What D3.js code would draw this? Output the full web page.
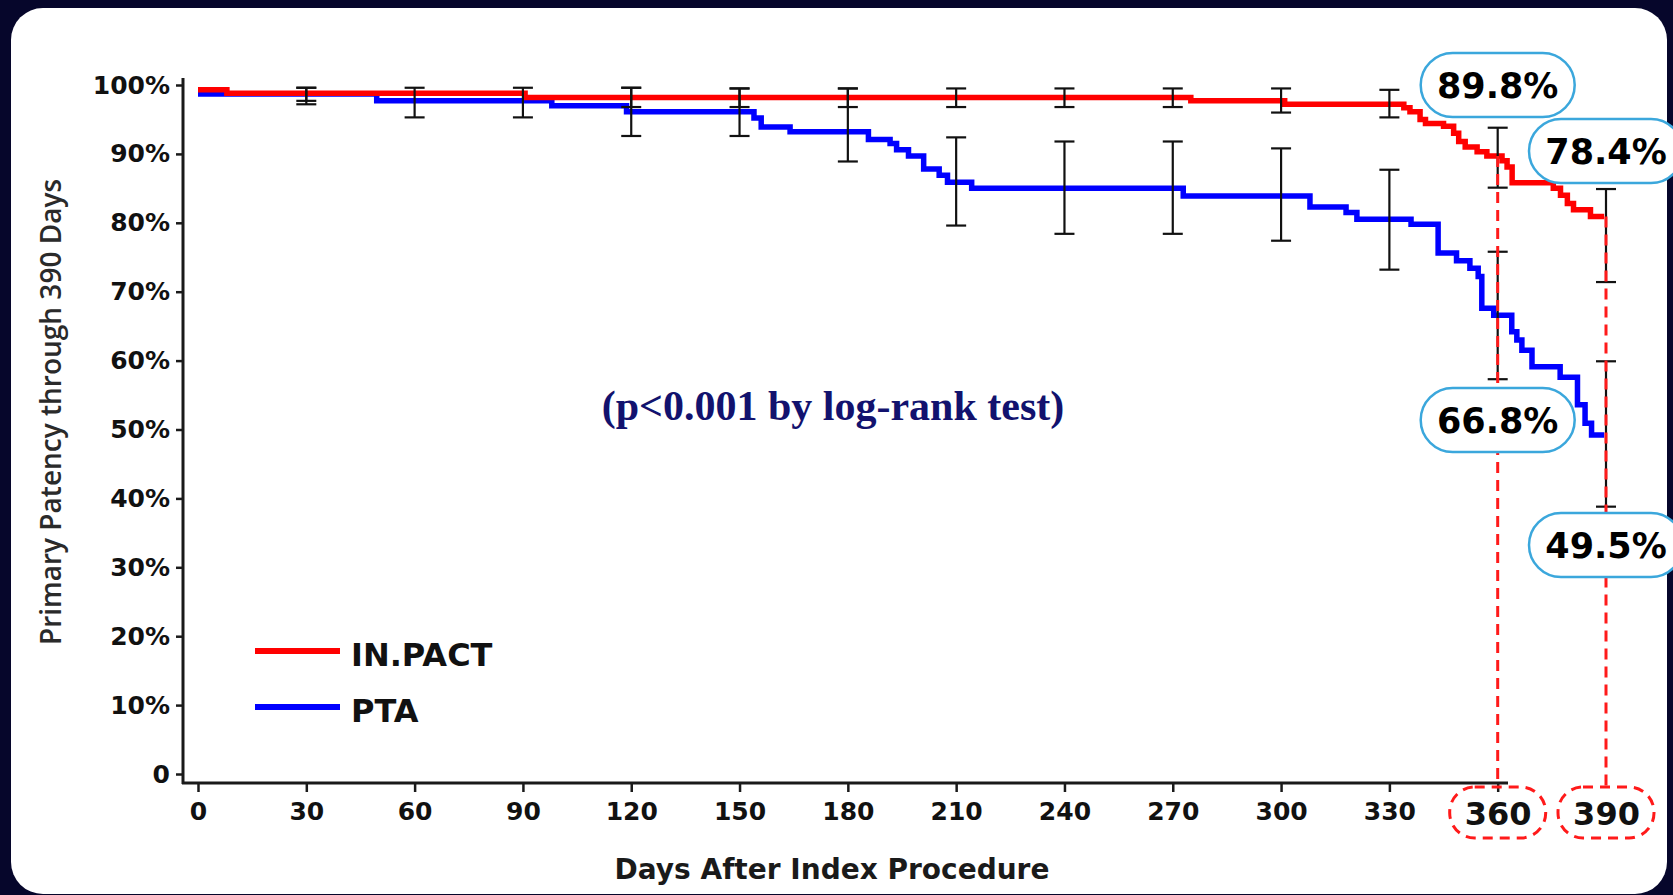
<!DOCTYPE html>
<html>
<head>
<meta charset="utf-8">
<script src="https://cdn.jsdelivr.net/npm/d3@7"></script>
<style>
  html, body { margin: 0; padding: 0; background: #06062b; }
  svg { display: block; }
</style>
</head>
<body>
<div class="chart"></div>
<script>

// ---- data ----
const redDays = [0, 8, 90.6, 275, 301, 334, 335.7, 338.5, 340, 345, 347.8, 349.2, 351, 354.3, 357, 361.2, 362.6, 364, 375.4, 377.4, 379.3, 381, 385.7, 389.5]
const redSurv = [99.3, 98.8, 98.2, 97.7, 97.2, 96.7, 96.1, 95.0, 94.4, 94.0, 93.0, 91.8, 91.0, 90.3, 89.7, 89.0, 88.1, 85.8, 85.0, 84.0, 82.8, 81.9, 80.9, 80.9]

const blueDays = [0, 49.5, 98, 118.7, 154, 156, 164, 185.7, 191.7, 193.5, 196.8, 201, 205.3, 207.6, 214.3, 272.9, 308, 318, 321, 336, 343.5, 348.6, 352.3, 354.6, 355.6, 358.9, 363.9, 365.3, 366.7, 369.5, 377.3, 382.1, 384.2, 386, 389.5]
const blueSurv = [98.7, 97.7, 97.0, 96.1, 95.2, 93.9, 93.2, 92.1, 91.5, 90.6, 89.7, 87.8, 86.9, 85.9, 85.0, 83.9, 82.3, 81.5, 80.5, 79.8, 75.6, 74.5, 73.4, 72.2, 67.6, 66.6, 64.2, 63.0, 61.5, 59.1, 57.6, 53.6, 50.9, 49.2, 49.2]

// confidence intervals at the 30-day marks (null = not drawn)
const ciDays = [30, 60, 90, 120, 150, 180, 210, 240, 270, 300, 330, 360, 390]
const redLo  = [97.7, null, null, 96.8, 96.8, 96.8, 96.8, 96.8, 96.8, 96.0, 95.3, 85.1, 71.4]
const redHi  = [99.6, null, null, 99.6, 99.5, 99.5, 99.5, 99.5, 99.5, 99.5, 99.3, 93.8, 84.9]
const blueLo = [97.2, 95.3, 95.3, 92.6, 92.6, 88.9, 79.6, 78.4, 78.4, 77.4, 73.2, 57.3, 38.8]
const blueHi = [99.6, 99.6, 99.6, 99.6, 99.5, 99.5, 92.4, 91.8, 91.8, 90.8, 87.7, 75.8, 59.9]

const xTicks = [0, 30, 60, 90, 120, 150, 180, 210, 240, 270, 300, 330, 360, 390]
const yTicks = [0, 10, 20, 30, 40, 50, 60, 70, 80, 90, 100]

const calloutText = ["89.8%", "78.4%", "66.8%", "49.5%"]
const calloutDay  = [360, 390, 360, 390]
const calloutY    = [85, 151, 420, 545]

const seriesNames = ["IN.PACT", "PTA"]
const seriesColors = ["#ff0000", "#0000ff"]

// ---- layout ----
const W = 1673, H = 895

const svg = d3.select(".chart").append("svg")
    .attr("width", W)
    .attr("height", H)

svg.append("rect")
    .attr("x", 11).attr("y", 8)
    .attr("width", 1656).attr("height", 886)
    .attr("rx", 32)
    .attr("fill", "#ffffff")

const xScale = d3.scaleLinear().domain([0, 390]).range([198, 1606])
const yScale = d3.scaleLinear().domain([0, 100]).range([774, 85])

const font = "'DejaVu Sans', sans-serif"

// ---- axes ----
const xAxis = d3.axisBottom(xScale)
    .tickValues(xTicks)
    .tickSize(9)
    .tickPadding(10)
    .tickFormat(d => d)

const gx = svg.append("g")
    .attr("class", "xAxis")
    .attr("transform", "translate(0,783)")
    .call(xAxis)
gx.select(".domain").remove()
gx.selectAll(".tick line").attr("stroke", "#1a1a1a").attr("stroke-width", 2.5)
gx.selectAll(".tick text")
    .attr("font-family", font)
    .attr("font-weight", "bold")
    .attr("font-size", d => d >= 360 ? 32 : 25)
    .attr("fill", "#111")
    .attr("dy", d => d >= 360 ? "0.42em" : "0.71em")
    .attr("y", d => d >= 360 ? 29 : 19)
gx.selectAll(".tick").filter(d => d === 390).select("line").remove()

svg.append("line")
    .attr("x1", 182).attr("x2", 1508)
    .attr("y1", 783).attr("y2", 783)
    .attr("stroke", "#1a1a1a").attr("stroke-width", 3)

const yAxis = d3.axisLeft(yScale)
    .tickValues(yTicks)
    .tickSize(7)
    .tickPadding(6)
    .tickFormat(d => d === 0 ? "0" : d + "%")

const gy = svg.append("g")
    .attr("class", "yAxis")
    .attr("transform", "translate(183,0)")
    .call(yAxis)
gy.select(".domain").remove()
gy.selectAll(".tick line").attr("stroke", "#1a1a1a").attr("stroke-width", 2.5)
gy.selectAll(".tick text")
    .attr("font-family", font)
    .attr("font-weight", "bold")
    .attr("font-size", 25)
    .attr("fill", "#111")

svg.append("line")
    .attr("x1", 183).attr("x2", 183)
    .attr("y1", 78).attr("y2", 784)
    .attr("stroke", "#1a1a1a").attr("stroke-width", 3)

// axis titles
svg.append("text")
    .attr("transform", "translate(61,412) rotate(-90)")
    .attr("text-anchor", "middle")
    .attr("font-family", "'Open Sans', sans-serif")
    .attr("font-weight", 600)
    .attr("font-size", 28)
    .attr("fill", "#2a2a2a")
    .text("Primary Patency through 390 Days")

svg.append("text")
    .attr("x", 832).attr("y", 879)
    .attr("text-anchor", "middle")
    .attr("font-family", font)
    .attr("font-weight", "bold")
    .attr("font-size", 28)
    .attr("fill", "#1a1a1a")
    .text("Days After Index Procedure")

// ---- curves ----
const line = d3.line()
    .x(d => xScale(d[0]))
    .y(d => yScale(d[1]))
    .curve(d3.curveStepAfter)

const blueData = blueDays.map((d, i) => [d, blueSurv[i]])
const redData = redDays.map((d, i) => [d, redSurv[i]])

svg.append("path")
    .datum(blueData)
    .attr("d", line)
    .attr("fill", "none")
    .attr("stroke", seriesColors[1])
    .attr("stroke-width", 5.5)

svg.append("path")
    .datum(redData)
    .attr("d", line)
    .attr("fill", "none")
    .attr("stroke", seriesColors[0])
    .attr("stroke-width", 5.5)

// ---- error bars ----
const bars = []
ciDays.forEach((d, i) => {
    if (redLo[i] != null) bars.push({day: d, lo: redLo[i], hi: redHi[i]})
    if (blueLo[i] != null) bars.push({day: d, lo: blueLo[i], hi: blueHi[i]})
})

const eb = svg.append("g").attr("stroke", "#111").attr("stroke-width", 2.2)
eb.selectAll(".stem").data(bars).enter().append("line")
    .attr("x1", d => xScale(d.day)).attr("x2", d => xScale(d.day))
    .attr("y1", d => yScale(d.hi)).attr("y2", d => yScale(d.lo))
eb.selectAll(".capHi").data(bars).enter().append("line")
    .attr("x1", d => xScale(d.day) - 10).attr("x2", d => xScale(d.day) + 10)
    .attr("y1", d => yScale(d.hi)).attr("y2", d => yScale(d.hi))
eb.selectAll(".capLo").data(bars).enter().append("line")
    .attr("x1", d => xScale(d.day) - 10).attr("x2", d => xScale(d.day) + 10)
    .attr("y1", d => yScale(d.lo)).attr("y2", d => yScale(d.lo))

// ---- dashed guide lines at 360 / 390 ----
const guideDays = [360, 390]
const guideTop = [89.7, 80.9]
svg.selectAll(".guide").data(guideDays).enter().append("line")
    .attr("x1", d => xScale(d)).attr("x2", d => xScale(d))
    .attr("y1", (d, i) => yScale(guideTop[i]))
    .attr("y2", 787)
    .attr("stroke", "#ff1a1a")
    .attr("stroke-width", 3)
    .attr("stroke-dasharray", "11,7")

// dashed boxes round the 360 / 390 tick labels
svg.selectAll(".tickBox").data(guideDays).enter().append("rect")
    .attr("x", d => xScale(d) - 48)
    .attr("y", 787)
    .attr("width", 96).attr("height", 51)
    .attr("rx", 25)
    .attr("fill", "none")
    .attr("stroke", "#ff1a1a")
    .attr("stroke-width", 3)
    .attr("stroke-dasharray", "10,7")

// ---- callouts ----
const co = svg.selectAll(".callout").data(calloutText).enter().append("g")
    .attr("transform", (d, i) => `translate(${xScale(calloutDay[i])},${calloutY[i]})`)
co.append("rect")
    .attr("x", -77).attr("y", -32)
    .attr("width", 154).attr("height", 64)
    .attr("rx", 32)
    .attr("fill", "#fff")
    .attr("stroke", "#3ba7dc")
    .attr("stroke-width", 2.5)
co.append("text")
    .attr("text-anchor", "middle")
    .attr("dy", "0.36em")
    .attr("font-family", font)
    .attr("font-weight", "bold")
    .attr("font-size", 35)
    .attr("fill", "#000")
    .text(d => d)

// ---- p value ----
svg.append("text")
    .attr("x", 833).attr("y", 420)
    .attr("text-anchor", "middle")
    .attr("font-family", "'Liberation Serif', 'Times New Roman', serif")
    .attr("font-weight", "bold")
    .attr("font-size", 42)
    .attr("fill", "#12126e")
    .text("(p<0.001 by log-rank test)")

// ---- legend ----
const legY = [651, 707]
const lg = svg.selectAll(".legend").data(seriesNames).enter().append("g")
lg.append("line")
    .attr("x1", 255).attr("x2", 340)
    .attr("y1", (d, i) => legY[i]).attr("y2", (d, i) => legY[i])
    .attr("stroke", (d, i) => seriesColors[i])
    .attr("stroke-width", 6)
lg.append("text")
    .attr("x", 351)
    .attr("y", (d, i) => legY[i] + 15)
    .attr("font-family", font)
    .attr("font-weight", "bold")
    .attr("font-size", 32)
    .attr("fill", "#111")
    .text(d => d)

</script>
</body>
</html>
